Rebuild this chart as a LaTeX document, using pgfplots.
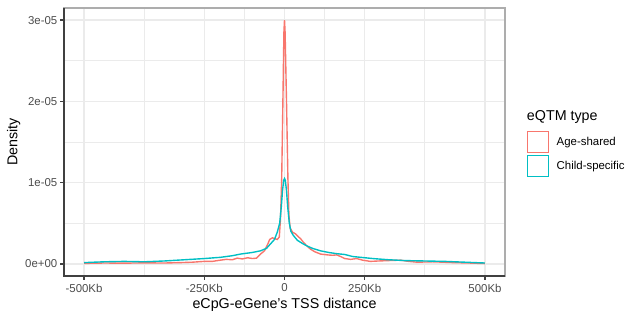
\documentclass[border=0pt]{standalone}
\usepackage{pgfplots}
\pgfplotsset{compat=1.18}
\usepackage{fontspec}
\setmainfont{Liberation Sans}
\definecolor{redA}{HTML}{F8766D}
\definecolor{cyanB}{HTML}{00BFC4}
\definecolor{grey92}{gray}{0.92}
\definecolor{grey20}{gray}{0.25}
\definecolor{grey70}{gray}{0.68}
\definecolor{grey30}{gray}{0.30}
\begin{document}
\begin{tikzpicture}
\begin{axis}[
  name=ax,
  at={(49.28pt,29.26pt)}, anchor=south west,
  scale only axis, width=339.57pt, height=206.36pt,
  xmin=-550, xmax=550, ymin=-0.15, ymax=3.15,
  xtick={-500,-200,0,200,500},
  xticklabels={-500Kb,-250Kb,0,250Kb,500Kb},
  minor xtick={-350,-100,100,350},
  ytick={0,1,2,3},
  yticklabels={0e+00,1e-05,2e-05,3e-05},
  minor ytick={0.5,1.5,2.5},
  grid=both,
  major grid style={draw=grey92, line width=1.07pt},
  minor grid style={draw=grey92, line width=0.53pt},
  axis line style={draw=grey70, line width=1.07pt},
  every tick/.style={draw=grey20, line width=1.07pt},
  tick align=outside,
  major tick length=2.75pt,
  minor tick length=0pt,
  xtick pos=bottom, ytick pos=left,
  xticklabel style={font=\fontsize{8.8}{10}\selectfont, text=grey30, inner sep=0pt, anchor=north, yshift=-3.2pt},
  yticklabel style={font=\fontsize{8.8}{10}\selectfont, text=grey30, inner sep=0pt, anchor=east, xshift=-2.2pt},
  xlabel={eCpG-eGene's TSS distance},
  ylabel={Density},
  xlabel style={at={(axis description cs:0.5,-0.1067)}, anchor=center, inner sep=0pt, font=\fontsize{11}{13}\selectfont},
  ylabel style={at={(axis description cs:-0.1143,0.5)}, anchor=center, inner sep=0pt, font=\fontsize{11}{13}\selectfont},
  legend cell align=left,
  legend image code/.code={\draw[#1, line width=1.07pt] (0.535pt,-8.1pt) rectangle (16.745pt,8.1pt);},
  legend style={at={(rel axis cs:1.0499,0.541)}, anchor=north west, draw=none, fill=none,
    inner sep=0pt, outer sep=0pt, row sep=1pt, column sep=5.6pt,
    nodes={inner sep=0pt, font=\fontsize{8.8}{10}\selectfont}},
]
\addplot[redA, line width=1.07pt] coordinates {
(-500,0.005) (-450,0.01) (-400,0.008) (-350,0.012) (-300,0.01) (-260,0.015)
(-230,0.02) (-200,0.03) (-180,0.03) (-160,0.045) (-145,0.055) (-130,0.05)
(-118,0.07) (-105,0.06) (-92,0.075) (-80,0.065) (-70,0.07) (-60,0.12)
(-50,0.16) (-42,0.24) (-37,0.30) (-30,0.32) (-24,0.31) (-18,0.30) (-13,0.33)
(-10,0.55) (-7,1.05) (-4,2.0) (-1.5,2.85) (0,3.0) (1.5,2.85) (5,2.0)
(8.5,1.05) (11,0.6) (14,0.44) (20,0.39) (27,0.37) (33,0.34) (40,0.31)
(48,0.26) (56,0.22) (65,0.18) (75,0.15) (90,0.12) (107,0.11) (120,0.105)
(130,0.11) (140,0.09) (150,0.065) (165,0.055) (180,0.065) (195,0.045)
(214,0.03) (235,0.035) (260,0.04) (289,0.045) (310,0.03) (331,0.02)
(370,0.025) (420,0.015) (460,0.01) (500,0.003)
};
\addlegendentry{Age-shared}
\addplot[cyanB, line width=1.07pt] coordinates {
(-500,0.015) (-450,0.025) (-400,0.03) (-350,0.025) (-300,0.035) (-250,0.05)
(-200,0.065) (-160,0.08) (-130,0.10) (-110,0.12) (-80,0.14) (-60,0.16)
(-45,0.19) (-35,0.245) (-25,0.30) (-18,0.39) (-12,0.5) (-8,0.7) (-5,0.9)
(-2,1.03) (0,1.05) (2,1.03) (5,0.9) (8,0.7) (12,0.5) (16,0.4) (22,0.35)
(32,0.29) (45,0.25) (56,0.22) (70,0.19) (90,0.16) (110,0.14) (130,0.125)
(150,0.115) (170,0.09) (190,0.08) (220,0.065) (260,0.05) (300,0.04)
(350,0.035) (400,0.03) (450,0.02) (500,0.01)
};
\addlegendentry{Child-specific}
\end{axis}
\draw[grey20, line width=1.07pt] (ax.north west) -- (ax.south west) -- (ax.south east);
\node[anchor=west, inner sep=0pt, font=\fontsize{11}{13}\selectfont] at (405.56pt,151.54pt) {eQTM type};
\pgfresetboundingbox
\useasboundingbox (0,0) rectangle (483.56pt,241.78pt);
\end{tikzpicture}
\end{document}
